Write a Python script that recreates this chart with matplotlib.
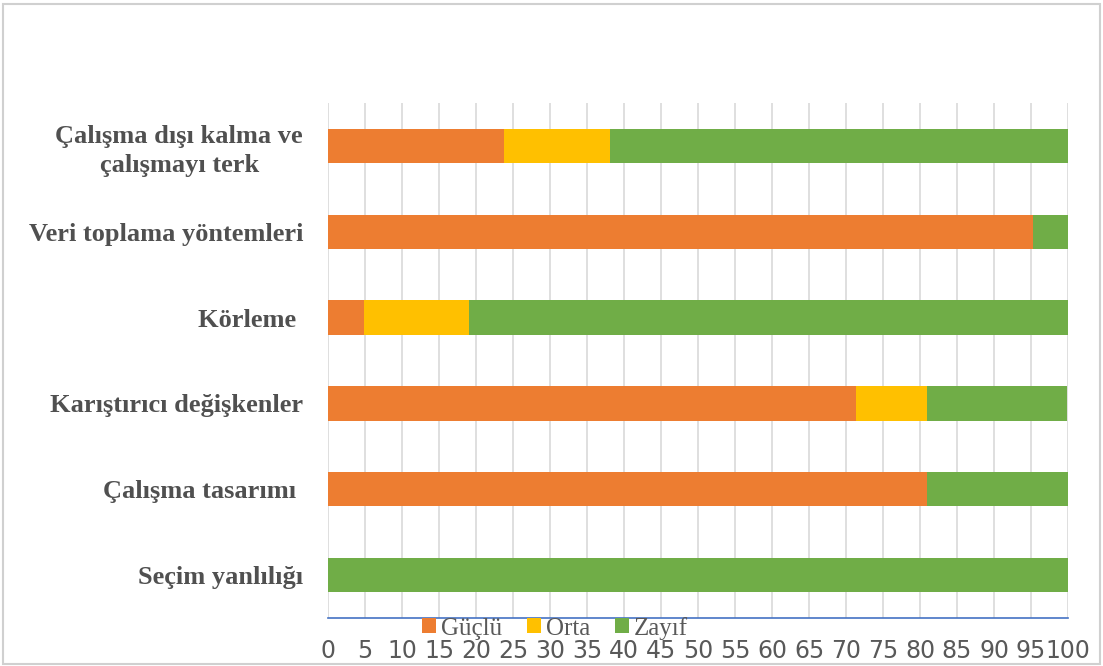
import numpy as np
import matplotlib.pyplot as plt
from matplotlib.patches import Rectangle

# categories from bottom to top
categories = ['Seçim yanlılığı', 'Çalışma tasarımı ', 'Karıştırıcı değişkenler',
              'Körleme ', 'Veri toplama yöntemleri', 'Çalışma dışı kalma ve\nçalışmayı terk']
guclu = [0, 81.0, 71.4, 4.8, 95.2, 23.8]
orta = [0, 0, 9.5, 14.3, 0, 14.3]
zayif = [100, 19.0, 19.0, 81.0, 4.8, 61.9]
series_names = ['Güçlü', 'Orta', 'Zayıf']
colors = ['#ED7D31', '#FFC000', '#70AD47']

fig = plt.figure(figsize=(11.03, 6.66), dpi=100)
ax = fig.add_axes([0.2974, 0.0721, 0.6709, 0.7733])

y = np.arange(len(categories))
left = np.zeros(len(categories))
for vals, name, c in zip([guclu, orta, zayif], series_names, colors):
    ax.barh(y, vals, left=left, height=0.4, color=c, label=name, zorder=3)
    left += np.array(vals)

ax.set_xlim(0, 100)
ax.set_ylim(-0.5, len(categories) - 0.5)
ax.set_xticks(np.arange(0, 101, 5))
ax.set_yticks(y)
ax.set_yticklabels(categories, family='Liberation Serif', fontweight='bold',
                   fontsize=19, color='#505050', multialignment='center',
                   linespacing=1.3)
ax.tick_params(axis='y', length=0, pad=18)
ax.tick_params(axis='x', length=0, pad=15)
for lbl in ax.get_xticklabels():
    lbl.set_family(['Liberation Sans Narrow', 'DejaVu Sans'])
    lbl.set_fontsize(17)
    lbl.set_color('#595959')
ax.grid(axis='x', color='#d9d9d9', linewidth=1.2, zorder=0)
for s in ['top', 'right', 'left']:
    ax.spines[s].set_visible(False)
ax.spines['bottom'].set_color('#4472C4')
ax.spines['bottom'].set_linewidth(1.2)

leg = fig.legend(loc='center', bbox_to_anchor=(0.503, 0.057), ncol=3, frameon=False,
                 prop={'family': 'Liberation Serif', 'size': 18}, handlelength=0.55,
                 handleheight=0.55, handletextpad=0.2, columnspacing=1.0)
for t in leg.get_texts():
    t.set_color('#595959')

# light border round the whole chart
fig.patches.append(Rectangle((3 / 1103, 2 / 666), 1097 / 1103, 660 / 666,
                             transform=fig.transFigure, fill=False,
                             edgecolor='#d0d0d0', linewidth=1.5))

fig.savefig('out.png', dpi=100)
